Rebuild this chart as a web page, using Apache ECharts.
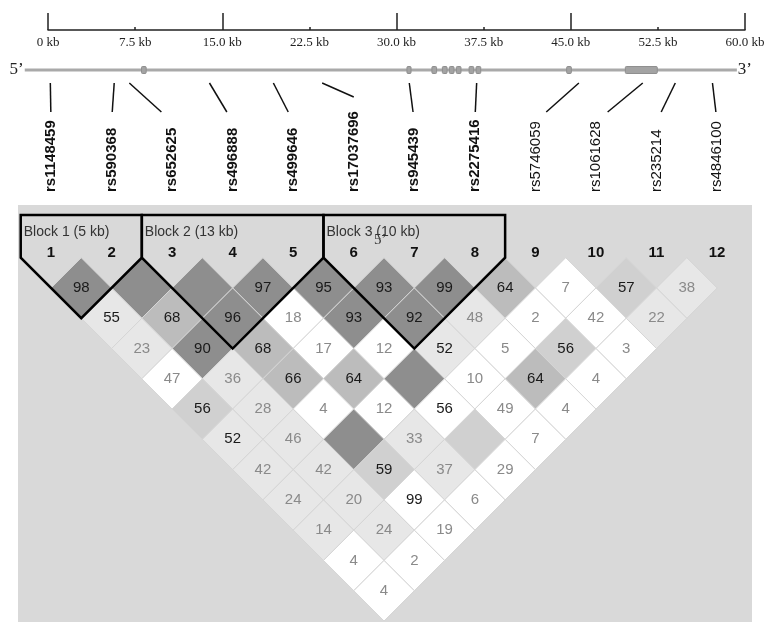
<!DOCTYPE html>
<html><head><meta charset="utf-8">
<script src="https://cdn.jsdelivr.net/npm/echarts@6/dist/echarts.min.js"></script>
<style>html,body{margin:0;padding:0;background:#fff}#c{width:772px;height:630px}</style>
</head><body><div id="c"></div>
<script>
// ---------------- data ----------------
const snpNames = ['rs1148459','rs590368','rs652625','rs496888','rs499646','rs17037696',
                  'rs945439','rs2275416','rs5746059','rs1061628','rs235214','rs4846100'];
const snpKb = [0.2, 5.7, 7.0, 13.9, 19.4, 23.6, 31.1, 36.9, 45.7, 51.2, 54.0, 57.2];
const kbTickLabels = ['0 kb','7.5 kb','15.0 kb','22.5 kb','30.0 kb','37.5 kb','45.0 kb','52.5 kb','60.0 kb'];
const geneSpanKb = [-2.0, 59.3];
const exonStartKb = [8.05, 30.90, 33.05, 33.95, 34.55, 35.15, 36.25, 36.85, 44.65, 49.70];
const exonEndKb   = [8.45, 31.25, 33.45, 34.35, 34.95, 35.55, 36.65, 37.25, 45.05, 52.45];
const blockStart = [1, 3, 6];
const blockEnd   = [2, 5, 8];
const blockKb    = [5, 13, 10];
// D' (x100) by SNP distance: row k holds pairs (i, i+k+1); 100 is drawn without a number
const ldDprime = [
  [98,100,100,97,95,93,99,64,7,57,38],
  [55,68,96,18,93,92,48,2,42,22],
  [23,90,68,17,12,52,5,56,3],
  [47,36,66,64,100,10,64,4],
  [56,28,4,12,56,49,4],
  [52,46,100,33,100,7],
  [42,42,59,37,29],
  [24,20,99,6],
  [14,24,19],
  [4,2],
  [4]
];
// LD strength class of each cell (S strong, M medium, G grey, L light, W weak)
const ldShade = ['SSSSSSSMWGL','LMSWSSLWWL','LSMWWLWGW','WLMMSWMW','GLWWWWW','LLSLGW','LLGLW','LLWW','LLW','WW','W'];
// significant LOD (dark number) flags
const ldLodSig = ['11111111010','1110110000','011001010','00111010','1000100','101010','00100','0010','000','00','0'];

// ---------------- layout / style ----------------
const KB_LEFT = 48, KB_WIDTH = 697, KB_MAX = 60;
const LD_LEFT = 18, LD_RIGHT_PX = 752, LD_TOP = 205, LD_BOTTOM_PX = 622;
const CELL = 60.55, ROW = CELL / 2, FIRST_X = 51, TOP_VERTEX_Y = 257.7;
const IDX_MIN = 1 - (FIRST_X - LD_LEFT) / CELL;
const IDX_MAX = 1 + (LD_RIGHT_PX - FIRST_X) / CELL;
const LVL_MIN = -(TOP_VERTEX_Y - LD_TOP) / ROW;
const LVL_MAX = (LD_BOTTOM_PX - TOP_VERTEX_Y) / ROW;
const GENE_Y = 40, CONN_TOP = 53, CONN_END = 82, CONN_END_LONG = 67, LABEL_BASE = 162;
const BLOCK_TOP = -1.41, BLOCK_LABEL_Y = -0.85, SNP_NUM_Y = -0.16;
const shadeColor = {S:'#8e8e8e', M:'#bcbcbc', G:'#d0d0d0', L:'#e7e7e7', W:'#ffffff'};
const SANS = 'Liberation Sans, Arial, sans-serif';
const SERIF = 'Liberation Serif, Times New Roman, serif';

function idxToKb(i){
  const px = LD_LEFT + (i - IDX_MIN) * CELL;
  return (px - KB_LEFT) / KB_WIDTH * KB_MAX;
}
const inBlock = snpNames.map((_, n) => blockStart.some((s, b) => n + 1 >= s && n + 1 <= blockEnd[b]));

const cells = [];
ldDprime.forEach((row, k) => row.forEach((v, n) => {
  const i = n + 1, j = n + k + 2;
  cells.push({value: [(i + j) / 2, j - i, v], shade: ldShade[k][n], lod: ldLodSig[k][n] === '1'});
}));

const chart = echarts.init(document.getElementById('c'), null, {renderer: 'canvas'});
const option = {
  animation: false,
  backgroundColor: '#ffffff',
  grid: [
    {left: KB_LEFT, width: KB_WIDTH, top: 30, height: 170, show: false},
    {left: LD_LEFT, right: 772 - LD_RIGHT_PX, top: LD_TOP, bottom: 630 - LD_BOTTOM_PX,
     show: true, backgroundColor: '#d9d9d9', borderWidth: 0}
  ],
  xAxis: [
    {gridIndex: 0, type: 'value', min: 0, max: KB_MAX, interval: 7.5, position: 'top',
     axisLine: {show: true, lineStyle: {color: '#222', width: 1.5}},
     axisTick: {show: true, inside: false, length: 3, lineStyle: {color: '#222', width: 1.5}},
     axisLabel: {inside: true, margin: 6, fontFamily: SERIF, fontSize: 13, color: '#222',
                 formatter: v => kbTickLabels[Math.round(v / 7.5)]},
     splitLine: {show: false}},
    {gridIndex: 0, type: 'value', min: 0, max: KB_MAX, interval: 15, position: 'top',
     axisLine: {show: false},
     axisTick: {show: true, inside: false, length: 17, lineStyle: {color: '#222', width: 1.5}},
     axisLabel: {show: false}, splitLine: {show: false}},
    {gridIndex: 1, type: 'value', min: IDX_MIN, max: IDX_MAX, show: false, splitLine: {show: false}}
  ],
  yAxis: [
    {gridIndex: 0, type: 'value', min: 0, max: 170, inverse: true, show: false},
    {gridIndex: 1, type: 'value', min: LVL_MIN, max: LVL_MAX, inverse: true, show: false}
  ],
  graphic: [
    {type: 'text', left: 374, top: 233, z: 100,
     style: {text: '5\u2019', font: '15px ' + SERIF, fill: '#333'}}
  ],
  series: [
    // gene line with 5'/3'
    {type: 'custom', xAxisIndex: 0, yAxisIndex: 0, clip: false, silent: true,
     data: [geneSpanKb],
     renderItem: (params, api) => {
       const a = api.coord([api.value(0), GENE_Y]), b = api.coord([api.value(1), GENE_Y]);
       return {type: 'group', children: [
         {type: 'line', shape: {x1: a[0], y1: a[1], x2: b[0], y2: b[1]}, style: {stroke: '#a9a9a9', lineWidth: 3}},
         {type: 'text', x: a[0] - 1, y: a[1], style: {text: '5\u2019', font: '17px ' + SERIF, fill: '#222', align: 'right', verticalAlign: 'middle'}},
         {type: 'text', x: b[0] + 1, y: b[1], style: {text: '3\u2019', font: '17px ' + SERIF, fill: '#222', align: 'left', verticalAlign: 'middle'}}
       ]};
     }},
    // exons
    {type: 'custom', xAxisIndex: 0, yAxisIndex: 0, clip: false, silent: true,
     data: exonStartKb.map((s, n) => [s, exonEndKb[n]]),
     renderItem: (params, api) => {
       const a = api.coord([api.value(0), GENE_Y]), b = api.coord([api.value(1), GENE_Y]);
       return {type: 'rect', shape: {x: a[0], y: a[1] - 3.5, width: b[0] - a[0], height: 7, r: 1},
               style: {fill: '#a3a3a3', stroke: '#8f8f8f', lineWidth: 1}};
     }},
    // connectors
    {type: 'custom', xAxisIndex: 0, yAxisIndex: 0, clip: false, silent: true,
     data: snpKb.map((kb, n) => [kb, idxToKb(n + 1), snpNames[n].length >= 10 ? 1 : 0]),
     renderItem: (params, api) => {
       const kb = api.value(0), lab = api.value(1), long = api.value(2) === 1;
       const endKb = long ? lab : kb + (lab - kb) * 0.75;
       const a = api.coord([kb, CONN_TOP]), b = api.coord([endKb, long ? CONN_END_LONG : CONN_END]);
       return {type: 'line', shape: {x1: a[0], y1: a[1], x2: b[0], y2: b[1]}, style: {stroke: '#111', lineWidth: 1.5}};
     }},
    // SNP names
    {type: 'custom', xAxisIndex: 0, yAxisIndex: 0, clip: false, silent: true,
     data: snpNames.map((nm, n) => [idxToKb(n + 1), LABEL_BASE]),
     renderItem: (params, api) => {
       const p = api.coord([api.value(0), api.value(1)]);
       const n = params.dataIndex;
       return {type: 'text', x: p[0], y: p[1], rotation: Math.PI / 2,
               style: {text: snpNames[n], font: (inBlock[n] ? 'bold ' : '') + '15px ' + SANS,
                       fill: '#111', align: 'left', verticalAlign: 'middle'}};
     }},
    // LD cells
    {type: 'custom', xAxisIndex: 2, yAxisIndex: 1, clip: false, silent: true,
     data: cells,
     renderItem: (params, api) => {
       const cx = api.value(0), cy = api.value(1), v = api.value(2);
       const c = cells[params.dataIndex];
       const pts = [api.coord([cx, cy - 1]), api.coord([cx + 0.5, cy]), api.coord([cx, cy + 1]), api.coord([cx - 0.5, cy])];
       const ctr = api.coord([cx, cy]);
       return {type: 'group', children: [
         {type: 'polygon', shape: {points: pts}, style: {fill: shadeColor[c.shade], stroke: '#d6d6d6', lineWidth: 1}},
         {type: 'text', x: ctr[0], y: ctr[1], style: {text: v === 100 ? '' : String(v), font: '15px ' + SANS,
           fill: c.lod ? '#1a1a1a' : '#8a8a8a', align: 'center', verticalAlign: 'middle'}}
       ]};
     }},
    // haplotype blocks
    {type: 'custom', xAxisIndex: 2, yAxisIndex: 1, clip: false, silent: true, z: 5,
     data: blockStart.map((s, b) => [s, blockEnd[b], blockKb[b]]),
     renderItem: (params, api) => {
       const a = api.value(0), e = api.value(1), kb = api.value(2);
       const pts = [api.coord([a - 0.5, BLOCK_TOP]), api.coord([a - 0.5, 0]), api.coord([(a + e) / 2, e - a + 1]),
                    api.coord([e + 0.5, 0]), api.coord([e + 0.5, BLOCK_TOP])];
       const lp = api.coord([a - 0.5 + 0.05, BLOCK_LABEL_Y]);
       return {type: 'group', children: [
         {type: 'polygon', shape: {points: pts}, style: {fill: null, stroke: '#000', lineWidth: 2.5, lineJoin: 'miter'}},
         {type: 'text', x: lp[0], y: lp[1], style: {text: 'Block ' + (params.dataIndex + 1) + ' (' + kb + ' kb)',
           font: '14px ' + SANS, fill: '#333', align: 'left', verticalAlign: 'middle'}}
       ]};
     }},
    // SNP numbers
    {type: 'custom', xAxisIndex: 2, yAxisIndex: 1, clip: false, silent: true, z: 6,
     data: snpNames.map((nm, n) => [n + 1, SNP_NUM_Y]),
     renderItem: (params, api) => {
       const p = api.coord([api.value(0), api.value(1)]);
       return {type: 'text', x: p[0], y: p[1], style: {text: String(params.dataIndex + 1), font: 'bold 15px ' + SANS,
         fill: '#111', align: 'center', verticalAlign: 'middle'}};
     }}
  ]
};
chart.setOption(option);
</script>
</body></html>
